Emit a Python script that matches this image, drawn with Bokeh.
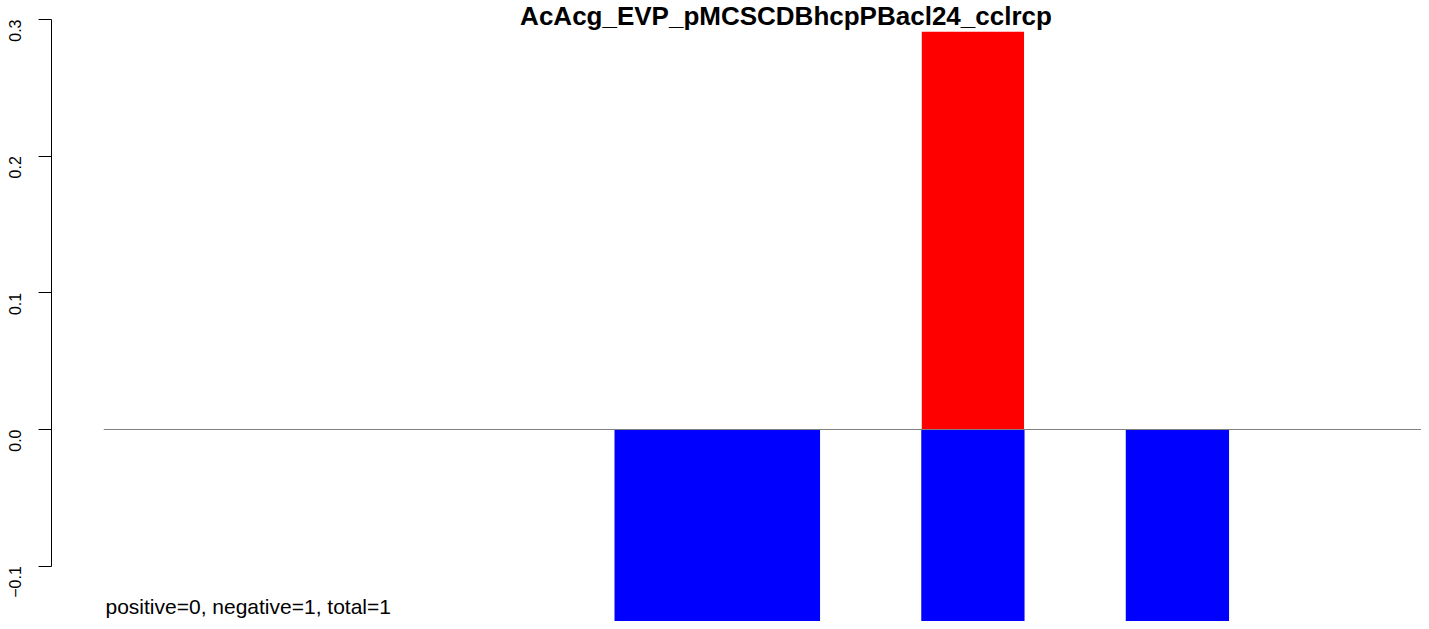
import math
from bokeh.plotting import figure
from bokeh.models import Range1d, FixedTicker, Label, ColumnDataSource
from bokeh.embed import file_html
from bokeh.resources import INLINE

# ---- data ----
title_text = "AcAcg_EVP_pMCSCDBhcpPBacl24_cclrcp"
categories = ["s1", "s2", "s3", "s4", "s5", "s6", "s7", "s8", "s9", "s10", "s11", "s12", "s13"]
pos_values = [0, 0, 0, 0, 0, 0, 0, 0, 0.291, 0, 0, 0, 0]
neg_values = [0, 0, 0, 0, 0, -0.25, -0.25, 0, -0.25, 0, -0.25, 0, 0]
tick_values = [-0.1, 0.0, 0.1, 0.2, 0.3]
tick_labels = ["\u22120.1", "0.0", "0.1", "0.2", "0.3"]
note_text = "positive=0, negative=1, total=1"

FONT = "Liberation Sans"

xs = [i + 0.5 for i in range(len(categories))]
src = ColumnDataSource(dict(x=xs, pos=pos_values, neg=neg_values))

p = figure(width=1421, height=621, output_backend="svg", toolbar_location=None,
           x_range=Range1d(-0.511, 12.887), y_range=Range1d(-0.1405, 0.3139),
           min_border_left=50, min_border_right=0, min_border_top=0, min_border_bottom=0)
p.outline_line_color = None
p.xaxis.visible = False
p.xgrid.visible = False
p.ygrid.visible = False
p.background_fill_color = "white"
p.border_fill_color = "white"

yax = p.yaxis[0]
yax.ticker = FixedTicker(ticks=tick_values)
yax.major_label_overrides = {v: l for v, l in zip(tick_values, tick_labels)}
yax.bounds = (min(tick_values), max(tick_values))
yax.axis_line_color = "black"
yax.axis_line_width = 1
yax.major_tick_line_color = "black"
yax.major_tick_out = 13
yax.major_tick_in = 0
yax.minor_tick_line_color = None
yax.major_label_orientation = math.pi / 2
yax.major_label_text_font = FONT
yax.major_label_text_font_size = "16px"
yax.major_label_text_color = "black"
yax.major_label_standoff = 23

p.vbar(x="x", top="pos", bottom=0, width=1, source=src, fill_color="#FF0000", line_color=None)
p.vbar(x="x", top="neg", bottom=0, width=1.01, source=src, fill_color="#0000FF", line_color=None)

p.segment(x0=[0], x1=[len(categories)], y0=[0], y1=[0], line_color="#808080", line_width=1)

p.add_layout(Label(x=0.017, y=-0.1383, text=note_text, text_font=FONT, text_font_size="21px",
                   text_color="black", text_baseline="bottom", text_align="left"))
p.add_layout(Label(x=6.672, y=0.3139, text=title_text, text_font=FONT, text_font_size="26px",
                   text_font_style="bold", text_color="black", text_baseline="top", text_align="center"))

open("out.html", "w").write(file_html(p, INLINE))
